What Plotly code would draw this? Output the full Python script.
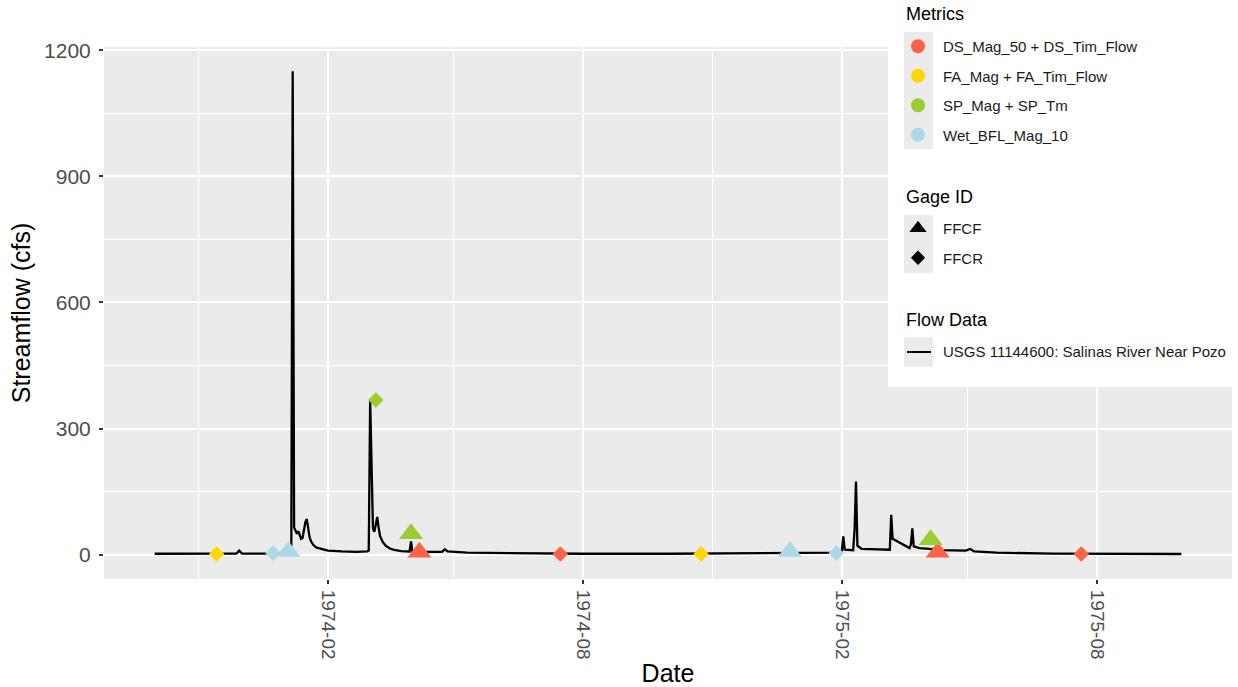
import plotly.graph_objects as go
import pandas as pd

# ---------------- data ----------------
flow_dates = [
    "1973-10-01", "1973-11-14", "1973-11-28", "1973-11-30", "1973-12-02", "1973-12-20",
    "1974-01-05", "1974-01-06", "1974-01-07", "1974-01-08", "1974-01-09", "1974-01-10",
    "1974-01-11", "1974-01-12", "1974-01-13", "1974-01-14", "1974-01-15", "1974-01-16",
    "1974-01-17", "1974-01-18", "1974-01-19", "1974-01-20", "1974-01-21", "1974-01-22",
    "1974-01-24", "1974-01-28", "1974-02-01", "1974-02-11", "1974-02-21", "1974-03-01",
    "1974-03-02", "1974-03-03", "1974-03-04", "1974-03-05", "1974-03-06", "1974-03-07",
    "1974-03-08", "1974-03-09", "1974-03-10", "1974-03-12", "1974-03-14", "1974-03-17",
    "1974-03-20", "1974-03-25", "1974-03-31", "1974-04-01", "1974-04-02", "1974-04-11",
    "1974-04-23", "1974-04-25", "1974-04-27", "1974-05-11", "1974-06-10", "1974-08-01",
    "1974-10-01", "1974-12-15", "1975-01-31", "1975-02-01", "1975-02-02", "1975-02-03",
    "1975-02-09", "1975-02-10", "1975-02-11", "1975-02-12", "1975-02-15", "1975-03-07",
    "1975-03-08", "1975-03-09", "1975-03-13", "1975-03-17", "1975-03-21", "1975-03-22",
    "1975-03-23", "1975-03-24", "1975-03-28", "1975-04-04", "1975-04-11", "1975-04-30",
    "1975-05-03", "1975-05-06", "1975-05-22", "1975-07-01", "1975-09-30",
]
flow_cfs = [
    2.5, 2.5, 3, 10, 3, 3,
    5, 8, 1150, 65, 55, 50,
    56, 45, 38, 40, 60, 78,
    85, 60, 42, 32, 26, 22,
    17, 13, 10, 8, 7, 8,
    10, 368, 200, 62, 55, 75,
    90, 65, 45, 30, 22, 15,
    12, 9, 8, 32, 8, 7,
    7, 13, 8, 5, 3.5, 2.5,
    2.5, 3, 5, 10, 44, 12,
    11, 60, 174, 22, 14, 12,
    95, 38, 30, 24, 16, 25,
    63, 20, 16, 14, 11, 10,
    14, 8, 5, 3, 2,
]

metric_names = ["DS_Mag_50 + DS_Tim_Flow", "FA_Mag + FA_Tim_Flow", "SP_Mag + SP_Tm", "Wet_BFL_Mag_10"]
metric_colors = ["tomato", "gold", "yellowgreen", "lightblue"]
gage_names = ["FFCF", "FFCR"]
gage_symbols = ["triangle-up", "diamond"]
legend_titles = ["Metrics", "Gage ID", "Flow Data"]
flow_name = "USGS 11144600: Salinas River Near Pozo"

# metric points: (metric, gage, date, value)
pt_metric = ["Wet_BFL_Mag_10", "Wet_BFL_Mag_10", "Wet_BFL_Mag_10", "Wet_BFL_Mag_10",
             "FA_Mag + FA_Tim_Flow", "FA_Mag + FA_Tim_Flow",
             "DS_Mag_50 + DS_Tim_Flow", "DS_Mag_50 + DS_Tim_Flow",
             "DS_Mag_50 + DS_Tim_Flow", "DS_Mag_50 + DS_Tim_Flow",
             "SP_Mag + SP_Tm", "SP_Mag + SP_Tm", "SP_Mag + SP_Tm"]
pt_gage = ["FFCR", "FFCF", "FFCF", "FFCR",
           "FFCR", "FFCR",
           "FFCF", "FFCR", "FFCF", "FFCR",
           "FFCR", "FFCF", "FFCF"]
pt_date = ["1973-12-24", "1974-01-04", "1974-12-26", "1975-01-28",
           "1973-11-14", "1974-10-24",
           "1974-04-07", "1974-07-16", "1975-04-10", "1975-07-21",
           "1974-03-07", "1974-04-01", "1975-04-05"]
pt_value = [4, 8, 8, 4,
            2, 2,
            6, 2, 6, 2,
            368, 50, 36]

x_tick_dates = ["1974-02-01", "1974-08-01", "1975-02-01", "1975-08-01"]
x_tick_text = ["1974-02", "1974-08", "1975-02", "1975-08"]
x_minor_dates = ["1973-11-01", "1974-05-01", "1974-11-01", "1975-05-01"]
y_ticks = [0, 300, 600, 900, 1200]
y_minor = [150, 450, 750, 1050]

# ---------------- figure ----------------
FONT = "Liberation Sans, Arial, sans-serif"
W, H = 1238, 687
ML, MR, MT, MB = 104, 6, 47, 108
PW, PH = W - ML - MR, H - MT - MB


def px_x(px):
    return (px - ML) / PW


def px_y(py):
    return (H - MB - py) / PH


fig = go.Figure()

fig.add_trace(go.Scatter(
    x=pd.to_datetime(flow_dates), y=flow_cfs, mode="lines",
    line=dict(color="black", width=2.3), showlegend=False, hoverinfo="x+y"))

color_of = dict(zip(metric_names, metric_colors))
symbol_of = dict(zip(gage_names, gage_symbols))
size_of = {"FFCF": 21, "FFCR": 12}
for d, v, m, g in zip(pt_date, pt_value, pt_metric, pt_gage):
    fig.add_trace(go.Scatter(
        x=[pd.to_datetime(d)], y=[v], mode="markers",
        marker=dict(symbol=symbol_of[g], color=color_of[m], size=size_of[g], line=dict(width=0)),
        showlegend=False, name=m + " / " + g))

# legend entries
for i, (m, c) in enumerate(zip(metric_names, metric_colors)):
    fig.add_trace(go.Scatter(x=[None], y=[None], mode="markers", name=m,
                             marker=dict(symbol="circle", color=c, size=14),
                             legend="legend", legendgroup="m%d" % i))
for i, (g, s) in enumerate(zip(gage_names, gage_symbols)):
    fig.add_trace(go.Scatter(x=[None], y=[None], mode="markers", name=g,
                             marker=dict(symbol=s, color="black", size=15 if s == "triangle-up" else 11),
                             legend="legend2", legendgroup="g%d" % i))
# the key glyph for the flow line is drawn as a short shape below, so the entry's own line is transparent
fig.add_trace(go.Scatter(x=[None], y=[None], mode="lines", name=flow_name,
                         line=dict(color="rgba(0,0,0,0)", width=2), legend="legend3"))

# legend backgrounds
shapes = [dict(type="rect", xref="paper", yref="paper", x0=px_x(888), x1=px_x(1240),
               y0=px_y(387), y1=px_y(-2), fillcolor="white", line=dict(width=0), layer="above")]
for (y0, y1) in [(32, 149), (215, 273), (337, 367)]:
    shapes.append(dict(type="rect", xref="paper", yref="paper", x0=px_x(904), x1=px_x(933),
                       y0=px_y(y1), y1=px_y(y0), fillcolor="#EBEBEB", line=dict(width=0), layer="above"))
shapes.append(dict(type="line", xref="paper", yref="paper", x0=px_x(907), x1=px_x(931),
                   y0=px_y(352), y1=px_y(352), line=dict(color="black", width=2), layer="above"))

annotations = []
for t, yc in zip(legend_titles, [14, 197, 320]):
    annotations.append(dict(text=t, xref="paper", yref="paper", x=px_x(904), y=px_y(yc),
                            xanchor="left", yanchor="middle", showarrow=False,
                            font=dict(family=FONT, size=18, color="black")))

leg_common = dict(bgcolor="rgba(0,0,0,0)", borderwidth=0, xanchor="left", yanchor="top",
                  font=dict(family=FONT, size=15, color="#1A1A1A"), tracegroupgap=7,
                  itemwidth=40)
fig.update_layout(
    legend=dict(x=px_x(893), y=px_y(30), **leg_common),
    legend2=dict(x=px_x(893), y=px_y(212), **leg_common),
    legend3=dict(x=px_x(893), y=px_y(335), **leg_common),
    shapes=shapes, annotations=annotations,
)

fig.update_layout(
    width=W, height=H,
    margin=dict(l=ML, r=MR, t=MT, b=MB, pad=0),
    paper_bgcolor="white", plot_bgcolor="#EBEBEB",
    font=dict(family=FONT, color="black"),
    xaxis=dict(
        range=[pd.Timestamp("1973-08-26"), pd.Timestamp("1975-11-05")],
        tickvals=pd.to_datetime(x_tick_dates), ticktext=x_tick_text, tickangle=90,
        ticks="outside", ticklen=4, tickwidth=1.5, tickcolor="#333333",
        tickfont=dict(family=FONT, size=19, color="#4D4D4D"), ticklabelstandoff=2,
        showgrid=True, gridcolor="white", gridwidth=2, zeroline=False, showline=False,
        minor=dict(tickvals=pd.to_datetime(x_minor_dates), showgrid=True, gridcolor="white", gridwidth=1, ticks=""),
        title=dict(text="Date", font=dict(family=FONT, size=25, color="black"), standoff=6),
        automargin=False,
    ),
    yaxis=dict(
        range=[-57.5, 1207.5], tickvals=y_ticks,
        ticks="outside", ticklen=4, tickwidth=1.5, tickcolor="#333333",
        tickfont=dict(family=FONT, size=21, color="#4D4D4D"), ticklabelstandoff=4,
        showgrid=True, gridcolor="white", gridwidth=2, zeroline=False, showline=False,
        minor=dict(tickvals=y_minor, showgrid=True, gridcolor="white", gridwidth=1, ticks=""),
        title=dict(text="Streamflow (cfs)", font=dict(family=FONT, size=25, color="black"), standoff=6),
        automargin=False,
    ),
)

fig.write_html("out.html")
